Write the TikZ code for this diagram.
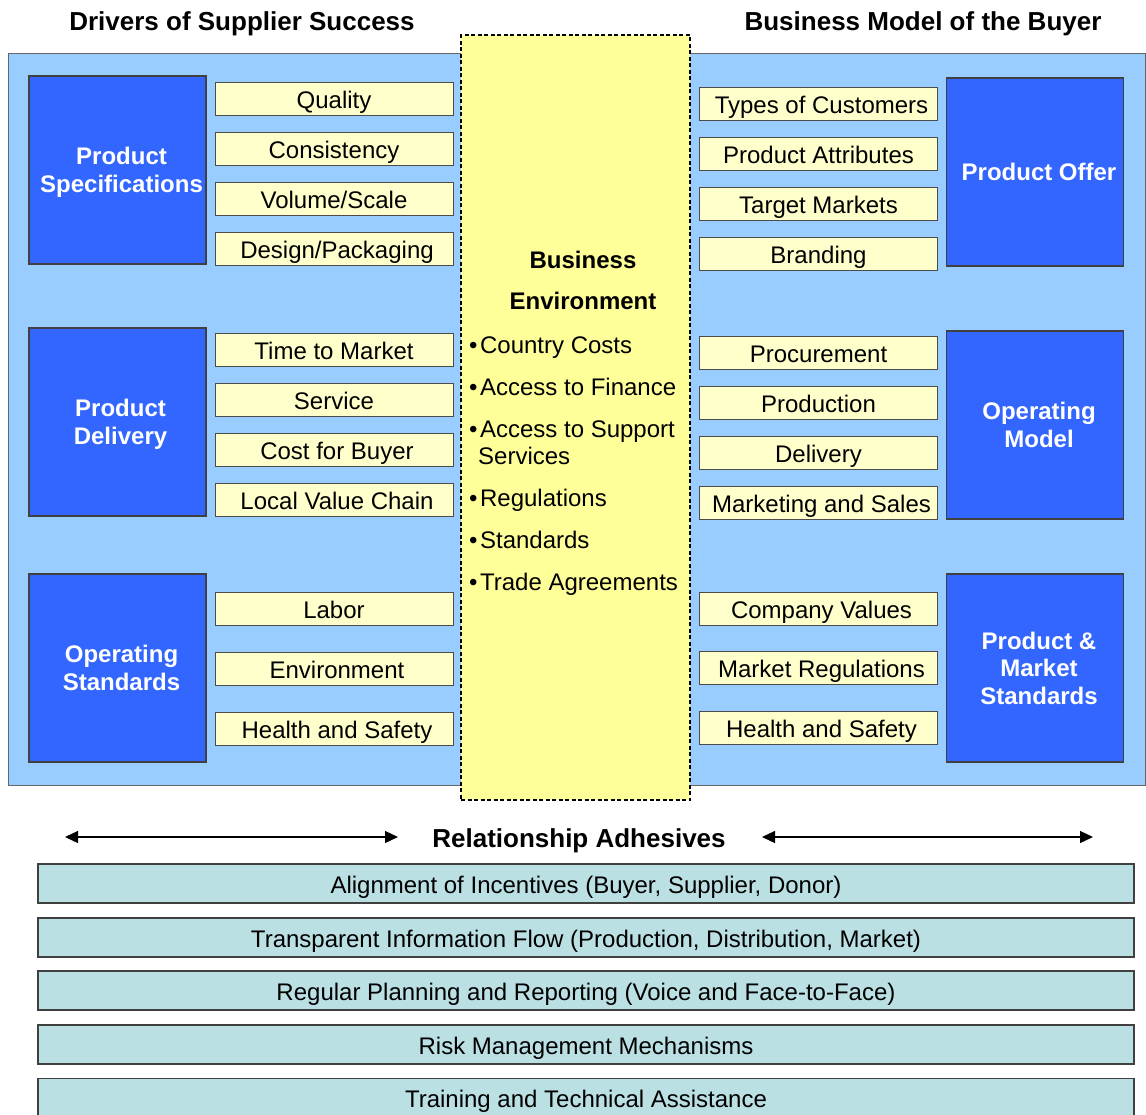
\documentclass[tikz,border=0pt]{standalone}
\usepackage{fontspec}
\setmainfont{Liberation Sans}
\usetikzlibrary{arrows.meta}

\definecolor{panelblue}{HTML}{99CCFF}
\definecolor{deepblue}{HTML}{3366FF}
\definecolor{paleyellow}{HTML}{FFFFCC}
\definecolor{envyellow}{HTML}{FFFF99}
\definecolor{gluecyan}{HTML}{BBE0E3}

\tikzset{
  heading/.style={font=\fontsize{26}{30}\selectfont\bfseries},
  topic/.style={draw=black!75, line width=1.2pt, fill=deepblue, text=white,
    minimum width=177, minimum height=188, inner sep=0, align=center, text depth=-3pt,
    font=\fontsize{24}{27.5}\selectfont\bfseries},
  factor/.style={draw=black!70, line width=1pt, fill=paleyellow,
    minimum width=238, minimum height=33, inner sep=0, text height=20pt, text depth=0pt,
    font=\fontsize{24}{28}\selectfont},
  bullet/.style={anchor=base west, inner sep=0, font=\fontsize{24}{28}\selectfont},
  glue/.style={draw=black!75, line width=1.2pt, fill=gluecyan,
    minimum width=1096, minimum height=39, inner sep=0, text height=19pt, text depth=0pt,
    font=\fontsize{24}{28}\selectfont},
  spread/.style={line width=1.3pt, {Triangle[length=13pt,width=12pt]}-{Triangle[length=13pt,width=12pt]}}
}

\begin{document}
\begin{tikzpicture}[x=1pt, y=-1pt]
  \useasboundingbox (0,0) rectangle (1146,1114);

  % Titles
  \node[heading] (drivers) at (242,24) {Drivers of Supplier Success};
  \node[heading] (model) at (923,24) {Business Model of the Buyer};

  % Background panel and business environment
  \draw[draw=black!60, line width=1pt, fill=panelblue] (8,53) rectangle (1145,785);
  \node[draw=black, line width=2pt, dash pattern=on 4pt off 2.5pt, fill=envyellow,
    minimum width=229, minimum height=765, inner sep=0] (env) at (575.5,417.5) {};
  \node[heading, font=\fontsize{24}{41}\selectfont\bfseries, align=center] (envtitle) at (583,280) {Business\\Environment};
  \node[bullet] (costs) at (469,353) {•\hspace{2.5pt}Country Costs};
  \node[bullet] (finance) at (469,395) {•\hspace{2.5pt}Access to Finance};
  \node[bullet] (support) at (469,437) {•\hspace{2.5pt}Access to Support};
  \node[bullet] (services) at (478,464) {Services};
  \node[bullet] (regulations) at (469,506) {•\hspace{2.5pt}Regulations};
  \node[bullet] (standards) at (469,548) {•\hspace{2.5pt}Standards};
  \node[bullet] (trade) at (469,590) {•\hspace{2.5pt}Trade Agreements};

  % Drivers of supplier success
  \node[topic] (spec) at (117.5,170) {\hspace{8pt}Product\\\hspace{8pt}Specifications};
  \node[factor] (quality) at (334,98.5) {Quality};
  \node[factor] (consistency) at (334,148.5) {Consistency};
  \node[factor] (volume) at (334,198.5) {Volume/Scale};
  \node[factor] (design) at (334,248.5) {\hspace{6pt}Design/Packaging};

  \node[topic] (delivery) at (117.5,422) {\hspace{6pt}Product\\\hspace{6pt}Delivery};
  \node[factor] (ttm) at (334,349.5) {Time to Market};
  \node[factor] (service) at (334,399.5) {Service};
  \node[factor] (cost) at (334,449.5) {\hspace{6pt}Cost for Buyer};
  \node[factor] (chain) at (334,499.5) {\hspace{6pt}Local Value Chain};

  \node[topic] (opstd) at (117.5,668) {\hspace{8pt}Operating\\\hspace{8pt}Standards};
  \node[factor] (labor) at (334,608.5) {Labor};
  \node[factor] (environment) at (334,668.5) {\hspace{6pt}Environment};
  \node[factor] (health) at (334,728.5) {\hspace{6pt}Health and Safety};

  % Business model of the buyer
  \node[topic] (offer) at (1035,172) {\hspace{8pt}Product Offer};
  \node[factor] (customers) at (818.5,103.5) {\hspace{6pt}Types of Customers};
  \node[factor] (attributes) at (818.5,153.5) {Product Attributes};
  \node[factor] (markets) at (818.5,203.5) {Target Markets};
  \node[factor] (branding) at (818.5,253.5) {Branding};

  \node[topic] (opmodel) at (1035,425) {\hspace{8pt}Operating\\\hspace{8pt}Model};
  \node[factor] (procurement) at (818.5,352.5) {Procurement};
  \node[factor] (production) at (818.5,402.5) {Production};
  \node[factor] (deliv) at (818.5,452.5) {Delivery};
  \node[factor] (sales) at (818.5,502.5) {\hspace{6pt}Marketing and Sales};

  \node[topic] (mktstd) at (1035,668) {\hspace{8pt}Product \&\\\hspace{8pt}Market\\\hspace{8pt}Standards};
  \node[factor] (values) at (818.5,608.5) {\hspace{6pt}Company Values};
  \node[factor] (mktreg) at (818.5,667.5) {\hspace{6pt}Market Regulations};
  \node[factor] (safety) at (818.5,727.5) {\hspace{6pt}Health and Safety};

  % Relationship adhesives
  \node[heading] (adhesives) at (579,841) {Relationship Adhesives};
  \coordinate (la) at (65,837);
  \coordinate (lb) at (398,837);
  \coordinate (ra) at (762,837);
  \coordinate (rb) at (1093,837);
  \draw[spread] (la) -- (lb);
  \draw[spread] (ra) -- (rb);

  \node[glue] (incentives) at (586,883.5) {Alignment of Incentives (Buyer, Supplier, Donor)};
  \node[glue] (info) at (586,937.5) {Transparent Information Flow (Production, Distribution, Market)};
  \node[glue] (planning) at (586,990.5) {Regular Planning and Reporting (Voice and Face-to-Face)};
  \node[glue] (risk) at (586,1044.5) {Risk Management Mechanisms};
  \node[glue] (training) at (586,1098) {Training and Technical Assistance};
\end{tikzpicture}
\end{document}
